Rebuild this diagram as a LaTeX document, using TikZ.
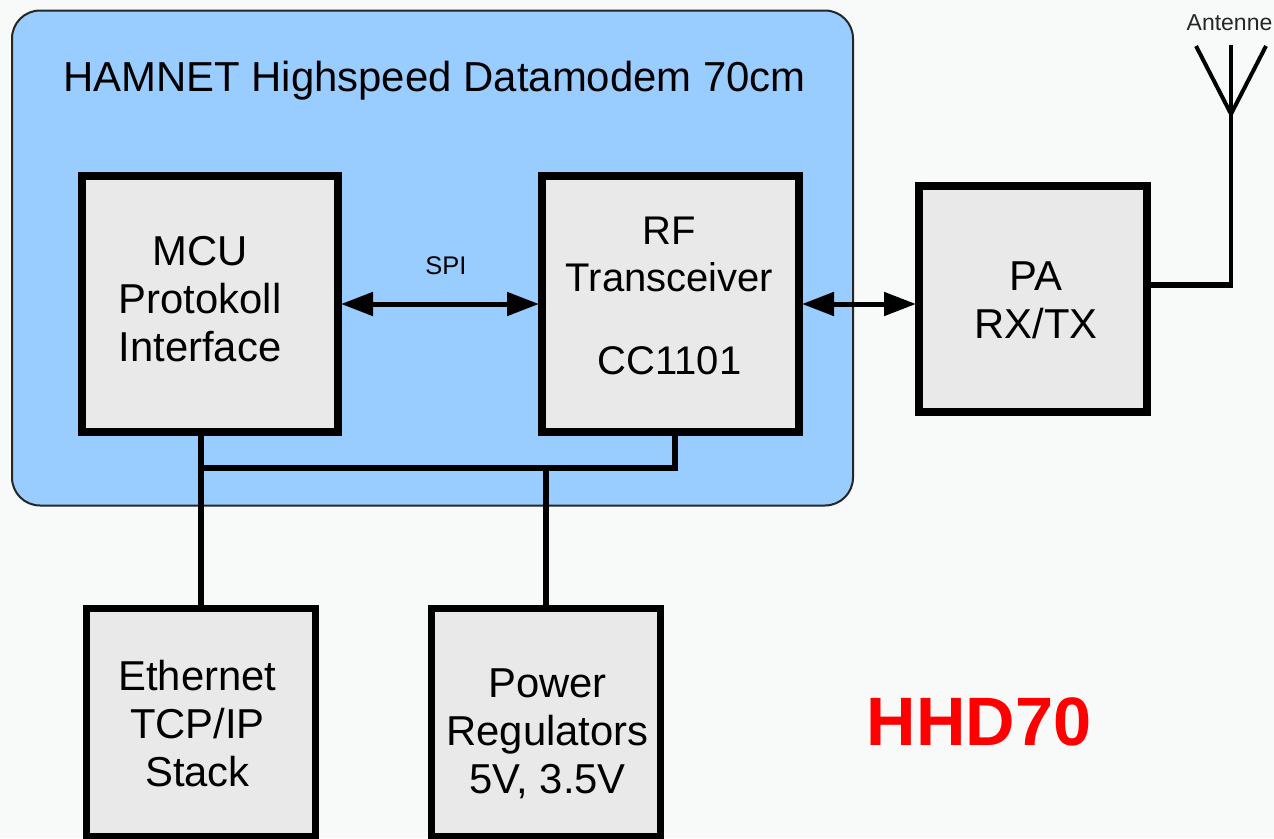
\documentclass[tikz,border=0pt]{standalone}
\usepackage{fontspec}
\setmainfont{Liberation Sans}
\usetikzlibrary{arrows.meta,positioning}
\definecolor{pagebg}{HTML}{F8FAF9}
\definecolor{modemblue}{HTML}{99CCFF}
\definecolor{blockgrey}{HTML}{E9E9E9}

\begin{document}
\begin{tikzpicture}[
		x=1pt,y=-1pt,
		% Style definitions
		modem/.style={
			rectangle,
			draw=black!85,
			fill=modemblue,
			line width=2pt,
			minimum width=841pt,
			minimum height=495pt,
			rounded corners=28pt
		},
		block/.style={
			rectangle,
			draw=black,
			fill=blockgrey,
			line width=8pt,
			inner sep=0pt
		},
		lowblock/.style={
			block,
			line width=7pt,
			minimum width=229pt,
			minimum height=228pt
		},
		blocktext/.style={
			align=center,
			inner sep=0pt,
			font=\fontsize{41.8}{47.8}\selectfont
		},
		arrow/.style={
			{Stealth[length=32pt,width=23pt,inset=0pt]}-{Stealth[length=32pt,width=23pt,inset=0pt]},
			line width=5pt,
			shorten <=-1pt,
			shorten >=-1pt,
			black
		},
		bus/.style={
			line width=6pt,
			black
		},
		aerial/.style={
			line width=4pt,
			black
		}
		]
		\useasboundingbox (0,0) rectangle (1274,838);
		\fill[pagebg] (0,0) rectangle (1274,838);
		
		% Modem area
		\node[modem] (Modem) at (432.5,258) {};
		\node[below=51pt of Modem.north, xshift=2pt, font=\fontsize{41.9}{47.5}\selectfont, inner sep=0pt] (Title) {HAMNET Highspeed Datamodem 70cm};
		
		% Blocks
		\node[block, minimum width=256pt, minimum height=256pt,
			label={[blocktext,xshift=-10pt,yshift=5pt]center:{MCU\\Protokoll\\Interface}}] (MCU) at (210,304) {};
		\node[block, minimum width=257pt, minimum height=256pt, right=196pt of MCU,
			label={[blocktext,xshift=-1pt,yshift=8pt,font=\fontsize{40}{47}\selectfont]center:{RF\\Transceiver\\[36pt]CC1101}}] (RF) {};
		\node[block, minimum width=228pt, minimum height=226pt, right=112pt of RF, yshift=5pt,
			label={[blocktext,xshift=3pt,yshift=-1pt]center:{PA\\RX/TX}}] (PA) {};
		\node[lowblock, below=169pt of MCU.south, anchor=north, xshift=-9.5pt,
			label={[blocktext,xshift=-3pt,yshift=-1pt]center:{Ethernet\\TCP/IP\\Stack}}] (Ethernet) {};
		\node[lowblock, right=109pt of Ethernet,
			label={[blocktext,xshift=2pt,yshift=-11pt]center:{Power\\Regulators\\5V, 3.5V}}] (Power) {};
		
		% Labels
		\node[font=\fontsize{25.5}{28}\selectfont, inner sep=0pt] (SPI) at (446,266) {SPI};
		\node[font=\fontsize{23}{26}\selectfont, inner sep=0pt, text=black!85] (AntLabel) at (1229.5,23) {Antenne};
		\node[font=\fontsize{68.5}{70}\selectfont\bfseries, inner sep=0pt, text=red] (Name) at (979,722) {HHD70};
		
		% Connection arrows
		\draw[arrow] (MCU.east) -- (RF.west);
		\draw[arrow] (RF.east) -- (RF.east -| PA.west);
		
		% Bus to the lower blocks
		\coordinate (RFtap) at (675,436);
		\coordinate (BusLeft) at (201,468);
		\coordinate (BusRight) at (675,468);
		\draw[bus] (MCU.south -| Ethernet.north) -- (Ethernet.north);
		\draw[bus,line join=miter] (BusLeft) -- (BusRight) -- (RFtap);
		\draw[bus] (Power.north |- BusLeft) -- (Power.north);
		
		% Antenna
		\coordinate (AntCorner) at (1233,285);
		\coordinate (AntFoot) at (1231,288);
		\coordinate (AntTop) at (1231,45);
		\coordinate (AntFeed) at (1231,114);
		\coordinate (AntLeft) at (1196,46);
		\coordinate (AntRight) at (1266,46);
		\draw[bus] (AntCorner -| PA.east) -- (AntCorner);
		\draw[aerial] (AntFoot) -- (AntTop);
		\draw[aerial] (AntLeft) -- (AntFeed) -- (AntRight);
		
	\end{tikzpicture}
\end{document}
